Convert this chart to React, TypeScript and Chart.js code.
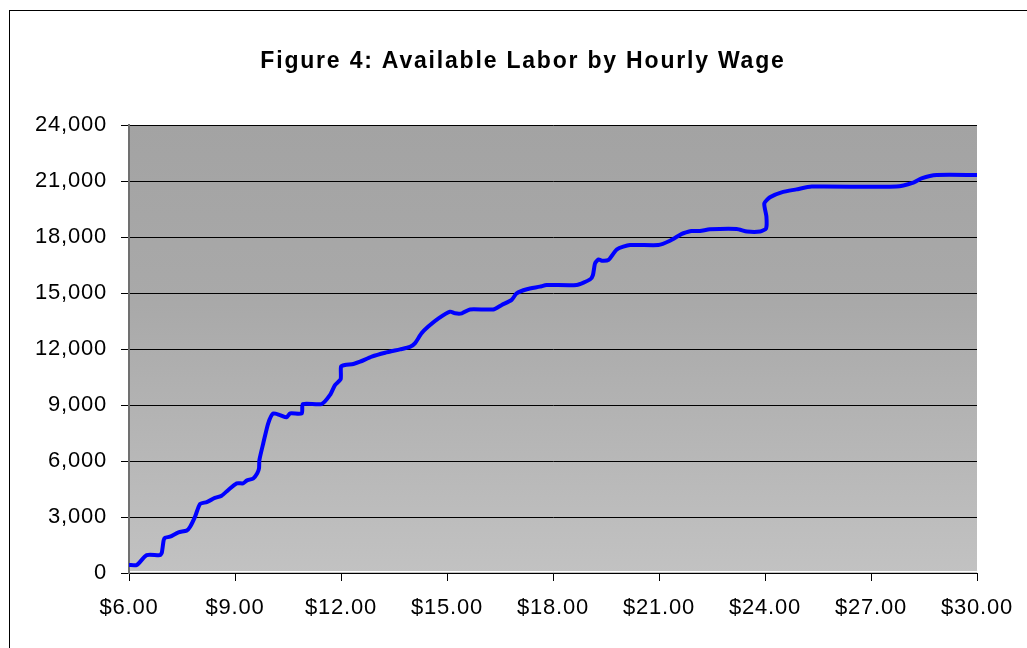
import React, { useEffect, useRef } from 'react';
import { Chart, registerables } from 'chart.js';

Chart.register(...registerables);

const titleText = 'Figure 4: Available Labor by Hourly Wage';

// Hourly wage ($) along the curve
const wages = [
  6.0, 6.22, 6.5, 6.88, 6.93, 6.98, 7.02, 7.16, 7.4, 7.63, 7.73, 7.87, 8.01, 8.2, 8.43, 8.62,
  8.81, 9.05, 9.23, 9.33, 9.52, 9.63, 9.68, 9.69, 9.8, 9.94, 10.08, 10.27, 10.46, 10.56,
  10.89, 10.92, 11.45, 11.69, 11.83, 11.99, 12.0, 12.11, 12.35, 12.54, 12.87, 13.25, 13.67,
  13.95, 14.09, 14.28, 14.47, 14.76, 15.09, 15.23, 15.42, 15.65, 16.31, 16.55, 16.83, 16.97,
  17.26, 17.63, 17.82, 18.67, 19.05, 19.13, 19.19, 19.29, 19.38, 19.57, 19.81, 20.18, 20.98,
  21.31, 21.59, 21.69, 21.92, 22.16, 22.44, 23.2, 23.49, 23.86, 24.03, 24.04, 23.98, 24.14,
  24.47, 24.89, 25.32, 27.72, 28.2, 28.43, 28.86, 30.0,
];

// Available labor (workers) at each wage
const labor = [
  430, 430, 960, 960, 1100, 1750, 1890, 1946, 2180, 2270, 2480, 3020, 3700, 3800, 4020, 4140,
  4450, 4800, 4800, 4950, 5070, 5340, 5610, 6050, 6950, 8020, 8550, 8460, 8340, 8550,
  8550, 9050, 9050, 9540, 10070, 10380, 11050, 11140, 11200, 11320, 11590, 11800, 11980,
  12110, 12300, 12840, 13200, 13640, 14000, 13910, 13910, 14120, 14120, 14360, 14630, 14980,
  15200, 15340, 15430, 15430, 15730, 15960, 16590, 16800, 16730, 16770, 17340, 17570, 17570,
  17800, 18110, 18200, 18320, 18320, 18410, 18430, 18290, 18290, 18460, 19090, 19800, 20130,
  20390, 20550, 20700, 20700, 20910, 21140, 21320, 21320,
];

const xMin = 6;
const xMax = 30;
const xStep = 3;
const yMin = 0;
const yMax = 24000;
const yStep = 3000;

const FONT = '"Liberation Sans", Arial, sans-serif';

export default function App() {
  const ref = useRef<HTMLCanvasElement>(null);

  useEffect(() => {
    const canvas = ref.current;
    if (!canvas) return;

    const decor = {
      id: 'decor',
      beforeDraw(chart: any) {
        const c = chart.ctx;
        const a = chart.chartArea;
        c.save();
        c.fillStyle = '#ffffff';
        c.fillRect(0, 0, chart.width, chart.height);
        const g = c.createLinearGradient(0, a.top, 0, a.bottom);
        g.addColorStop(0, '#a3a3a3');
        g.addColorStop(0.4, '#a9a9a9');
        g.addColorStop(1, '#c2c2c2');
        c.fillStyle = g;
        c.fillRect(a.left, a.top, a.right - a.left, a.bottom - a.top);
        c.strokeStyle = '#000000';
        c.lineWidth = 1;
        c.strokeRect(9.5, 10.5, chart.width + 50, chart.height + 50);
        c.fillStyle = '#000000';
        c.font = 'bold 23px ' + FONT;
        (c as any).letterSpacing = '1.8px';
        c.textAlign = 'center';
        c.textBaseline = 'alphabetic';
        c.fillText(titleText, 523, 68);
        c.restore();
        (c as any).letterSpacing = '0.8px';
      },
      beforeDatasetsDraw(chart: any) {
        const c = chart.ctx;
        const a = chart.chartArea;
        c.save();
        c.strokeStyle = '#ffffff';
        c.lineWidth = 1;
        c.beginPath();
        c.moveTo(a.left + 1, a.bottom - 1.5);
        c.lineTo(a.right, a.bottom - 1.5);
        c.stroke();
        c.restore();
      },
    };

    const chart = new Chart(canvas, {
      type: 'line',
      data: {
        datasets: [
          {
            label: 'Available Labor',
            data: wages.map((w, i) => ({ x: w, y: labor[i] })),
            borderColor: '#0000ff',
            borderWidth: 4,
            pointRadius: 0,
            fill: false,
            tension: 0.2,
          },
        ],
      },
      options: {
        animation: false,
        responsive: false,
        maintainAspectRatio: false,
        layout: { padding: { left: 0, top: 125, right: 50, bottom: 0 } },
        plugins: {
          legend: { display: false },
          title: { display: false },
          tooltip: { enabled: false },
        },
        scales: {
          x: {
            type: 'linear',
            min: xMin,
            max: xMax,
            afterFit(scale: any) {
              scale.height = 75;
            },
            ticks: {
              stepSize: xStep,
              color: '#000000',
              font: { family: FONT, size: 22 },
              padding: 14,
              maxRotation: 0,
              callback: (v: any) => '$' + Number(v).toFixed(2),
            },
            grid: {
              drawOnChartArea: false,
              drawTicks: true,
              tickLength: 8,
              color: '#000000',
            },
            border: { display: true, color: '#000000', width: 1 },
          },
          y: {
            type: 'linear',
            min: yMin,
            max: yMax,
            afterFit(scale: any) {
              scale.width = 129;
            },
            ticks: {
              stepSize: yStep,
              color: '#000000',
              font: { family: FONT, size: 22 },
              padding: 14,
              callback: (v: any) => Number(v).toLocaleString('en-US'),
            },
            grid: {
              color: '#000000',
              lineWidth: 1,
              drawTicks: true,
              tickLength: 8,
            },
            border: { display: true, color: '#707070', width: 2 },
          },
        },
      },
      plugins: [decor],
    });

    return () => chart.destroy();
  }, []);

  return (
    <div style={{ position: 'fixed', left: 0, top: 0, width: 1027, height: 648, background: '#fff' }}>
      <canvas ref={ref} width={1027} height={648} style={{ display: 'block' }} />
    </div>
  );
}
